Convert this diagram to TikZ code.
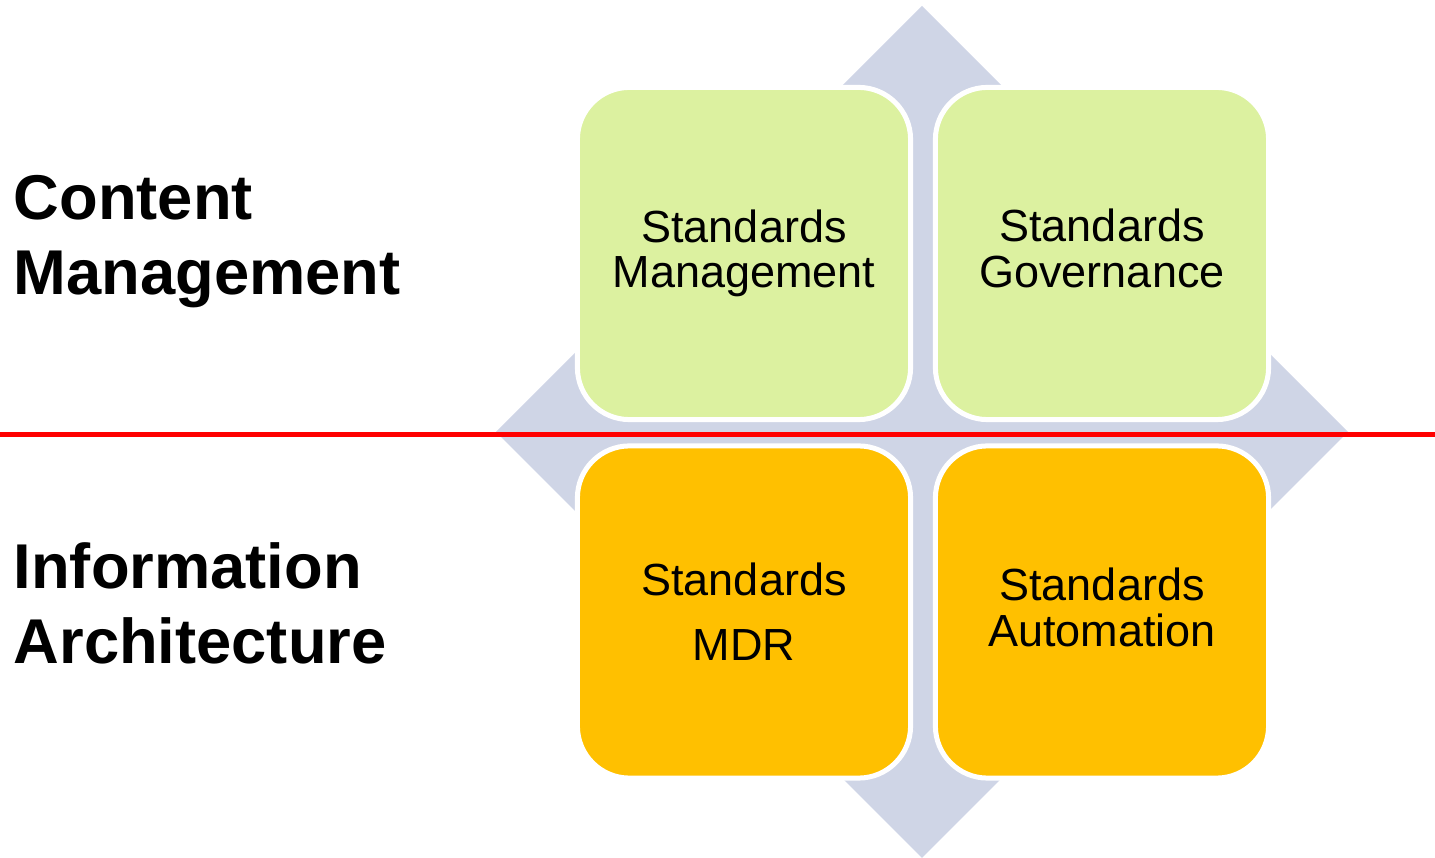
\documentclass[tikz,border=0pt]{standalone}
\usepackage{fontspec}
\setmainfont{Liberation Sans}
\usepackage{tikz}
\usetikzlibrary{positioning}

\definecolor{diamondgray}{RGB}{207,213,230}
\definecolor{cellgreen}{RGB}{220,241,160}
\definecolor{cellorange}{RGB}{255,192,0}
\definecolor{splitred}{RGB}{255,0,0}

\begin{document}
\begin{tikzpicture}[x=0.01cm,y=-0.01cm]
    \tikzstyle{cell}=[rectangle,rounded corners=0.52cm,draw=white,line width=0.05cm,minimum width=3.33cm,minimum height=3.32cm,inner sep=0pt,align=center,font=\fontsize{12.8}{13}\selectfont]
    \tikzstyle{content cell}=[cell, fill=cellgreen];
    \tikzstyle{info cell}=[cell, fill=cellorange];
    \tikzstyle{annot} = [anchor=base west, inner sep=0pt, align=left, font=\fontsize{18}{21.5}\selectfont\bfseries]

    \useasboundingbox (0,0) rectangle (1435,858);
    % Draw the background diamond
    \fill[diamondgray] (922,6) -- (1348,432) -- (922,858) -- (496,432) -- cycle;
    % Draw the dividing line
    \coordinate (L) at (0,435);
    \coordinate (R) at (1435,435);
    \draw[splitred, line width=0.05cm] (L) -- (R);
    % Draw the four cells
    \node[content cell] (C-1) at (744,253.5) {Standards\\Management};
    \node[content cell, text depth=0.1cm] (C-2) at (1102,253.5) {Standards\\Governance};
    \node[info cell] (I-1) at (744,612) {Standards\\[0.19cm]MDR};
    \node[info cell, text depth=0.1cm] (I-2) at (1102,612) {Standards\\Automation};
    % Annotate the rows
    \node[annot] (A-1) at (13,295) {Content\\Management};
    \node[annot] (A-2) at (13,664) {Information\\Architecture};
\end{tikzpicture}
\end{document}
